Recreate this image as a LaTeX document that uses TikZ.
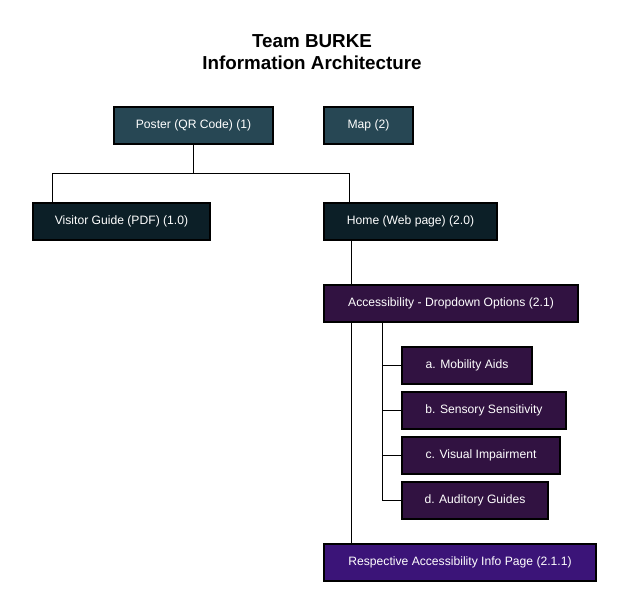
\documentclass[tikz,border=0pt]{standalone}
\usepackage{fontspec}
\setmainfont{Liberation Sans}
\usetikzlibrary{calc}
\definecolor{posterteal}{HTML}{274754}
\definecolor{pagenavy}{HTML}{0C1F27}
\definecolor{optionplum}{HTML}{311241}
\definecolor{infoviolet}{HTML}{3B1478}
\tikzset{
  box/.style={draw=black, line width=0.8pt, text=white, inner sep=0pt,
    minimum height=27.75pt, font=\fontsize{9.1}{11}\selectfont},
  link/.style={draw=black, line width=0.9pt},
}

\begin{document}
\begin{tikzpicture}[x=0.75pt, y=-0.75pt]
			%%%%% START %%%%%
			\useasboundingbox (0,0) rectangle (623,612);

			\node[font=\fontsize{14.1}{16.5}\selectfont\bfseries, align=center] (title) at (312,52) {Team BURKE\\Information Architecture};

			\node[box, fill=posterteal, minimum width=119.25pt] (poster) at (193.5,125.5) {Poster (QR Code) (1)};
			\node[box, fill=posterteal, minimum width=66.75pt] (map) at (368.5,125.5) {Map (2)};

			\node[box, fill=pagenavy, minimum width=132.75pt] (guide) at (121.5,221.5) {Visitor Guide (PDF) (1.0)};
			\node[box, fill=pagenavy, minimum width=129.75pt] (home) at (410.5,221.5) {Home (Web page) (2.0)};

			\node[box, fill=optionplum, minimum width=190.5pt] (access) at (451,303.5) {Accessibility - Dropdown Options (2.1)};

			\node[box, fill=optionplum, minimum width=97.5pt] (opta) at (467,365.5) {a. Mobility Aids};
			\node[box, fill=optionplum, minimum width=123pt] (optb) at (484,410.5) {b. Sensory Sensitivity};
			\node[box, fill=optionplum, minimum width=118.5pt] (optc) at (481,455.5) {c. Visual Impairment};
			\node[box, fill=optionplum, minimum width=109.5pt] (optd) at (475,500.5) {d. Auditory Guides};

			\node[box, fill=infoviolet, minimum width=204pt] (info) at (460,562.5) {Respective Accessibility Info Page (2.1.1)};

			% poster to the two pages
			\draw[link] (poster.south) -- ++(0,29) coordinate (fork);
			\coordinate (guidein) at ($(guide.north west)+(20,0)$);
			\coordinate (homein) at ($(home.north west)+(26,0)$);
			\draw[link] (guidein) |- (fork) -| (homein);

			% home down to the info page
			\coordinate (trunk) at ($(access.south west)+(28,0)$);
			\draw[link] (home.south -| trunk) -- (access.north -| trunk);
			\draw[link] (trunk) -- (info.north -| trunk);

			% dropdown options
			\coordinate (branch) at ($(access.south west)+(59,0)$);
			\draw[link] (branch) |- (optd.west);
			\foreach \opt in {opta,optb,optc}
				\draw[link] (branch |- \opt.west) -- (\opt.west);

			%%%%% END %%%%%
		\end{tikzpicture}
\end{document}
